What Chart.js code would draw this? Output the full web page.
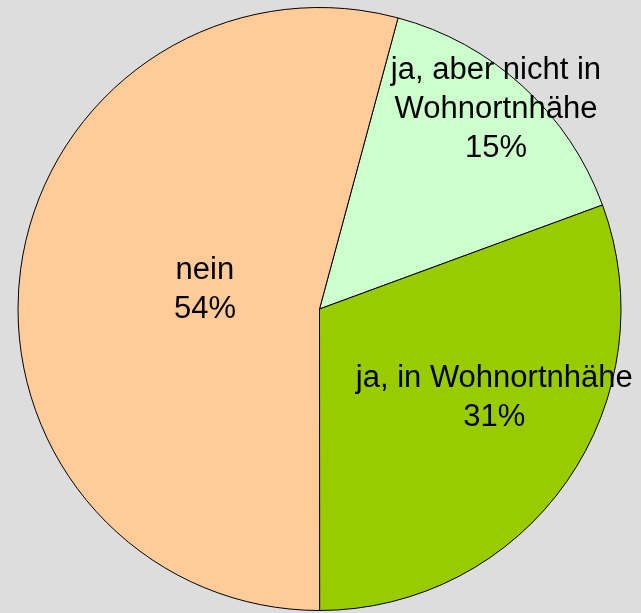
<!DOCTYPE html>
<html>
<head>
<meta charset="utf-8">
<script src="https://cdn.jsdelivr.net/npm/chart.js@4"></script>
<style>
  html, body { margin: 0; padding: 0; background: #dddddd; }
  canvas { display: block; }
</style>
</head>
<body>
<canvas id="myChart" width="641" height="613"></canvas>
<script>
// categories (line-wrapped as in the original) and shares in percent
const categories = [
    ['ja, aber nicht in', 'Wohnortnhähe'],
    ['ja, in Wohnortnhähe'],
    ['nein']
];
const values = [15.2, 30.6, 54.2];
const colors = ['#ccffcc', '#99cc00', '#ffcc99'];

// where each label sits inside its slice: fraction of radius and angle tweak (deg)
const labelRadius = [0.884, 0.65, 0.385];
const labelTurn = [-1, -8, 1.7];

const sliceLabels = {
    id: 'sliceLabels',
    afterDatasetsDraw(chart) {
        const ctx = chart.ctx;
        const meta = chart.getDatasetMeta(0);
        const total = values.reduce((a, b) => a + b, 0);
        ctx.save();
        ctx.font = '31px "Liberation Sans", Arial, sans-serif';
        ctx.fillStyle = '#000';
        ctx.textAlign = 'center';
        ctx.textBaseline = 'middle';
        meta.data.forEach((arc, i) => {
            const mid = (arc.startAngle + arc.endAngle) / 2 + labelTurn[i] * Math.PI / 180;
            const r = arc.outerRadius * labelRadius[i];
            const cx = arc.x + Math.cos(mid) * r;
            const cy = arc.y + Math.sin(mid) * r;
            const lines = categories[i].concat([Math.round(values[i] / total * 100) + '%']);
            const lh = 39;
            const top = cy - (lines.length - 1) * lh / 2;
            lines.forEach((t, k) => ctx.fillText(t, cx, top + k * lh));
        });
        ctx.restore();
    }
};

const ctx = document.getElementById('myChart').getContext('2d');
const myChart = new Chart(ctx, {
    type: 'pie',
    data: {
        labels: categories,
        datasets: [{
            data: values,
            backgroundColor: colors,
            borderColor: '#000000',
            borderWidth: 1
        }]
    },
    options: {
        responsive: false,
        animation: false,
        rotation: 15.1,
        layout: {
            padding: { left: 17, right: 19, top: 7, bottom: 2 }
        },
        plugins: {
            legend: { display: false },
            tooltip: { enabled: false }
        }
    },
    plugins: [sliceLabels]
});
</script>
</body>
</html>
